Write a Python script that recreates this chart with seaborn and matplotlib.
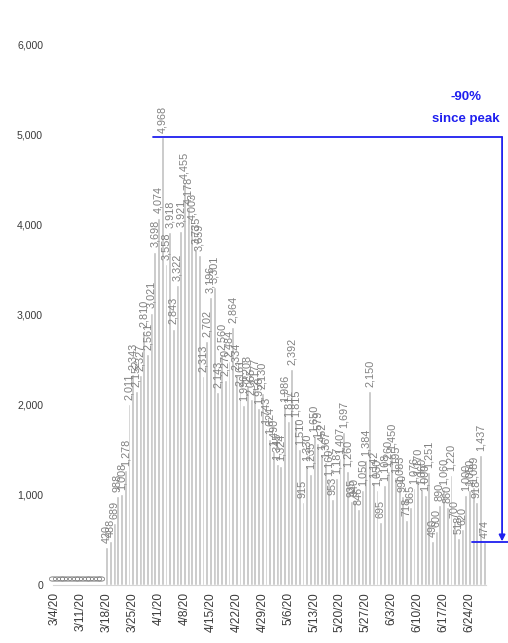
import numpy as np
import pandas as pd
import matplotlib
matplotlib.use("Agg")
import matplotlib.pyplot as plt
import seaborn as sns

# ---- data -------------------------------------------------------------
start_date = "2020-03-04"
zero_days = [0] * 14  # 3/4 - 3/17
week_values = [
    [420, 488, 689, 988, 1008, 1278, 2011],        # 3/18 - 3/24
    [2343, 2152, 2327, 2810, 2561, 3021, 3698],    # 3/25 - 3/31
    [4074, 4968, 3558, 3918, 2843, 3322, 3921],    # 4/1 - 4/7
    [4455, 4178, 4003, 3735, 3659, 2313, 2702],    # 4/8 - 4/14
    [3196, 3301, 2143, 2560, 2270, 2484, 2864],    # 4/15 - 4/21
    [2334, 2161, 1996, 2208, 2065, 2177, 1958],    # 4/22 - 4/28
    [2130, 1743, 1624, 1490, 1345, 1324, 1986],    # 4/29 - 5/5
    [1817, 2392, 1815, 1510, 915, 1330, 1235],     # 5/6 - 5/12
    [1650, 1579, 1452, 1367, 1160, 953, 1187],     # 5/13 - 5/19
    [1407, 1697, 1260, 935, 940, 846, 1050],       # 5/20 - 5/26
    [1384, 2150, 1142, 1050, 695, 1108, 1260],     # 5/27 - 6/2
    [1450, 1195, 1083, 990, 718, 865, 1076],       # 6/3 - 6/9
    [1170, 1060, 1000, 1251, 490, 600, 890],       # 6/10 - 6/16
    [1060, 860, 1220, 700, 518, 620, 1000],        # 6/17 - 6/23
    [1050, 1089, 918, 1437, 474],                  # 6/24 - 6/28
]
values = zero_days + [v for w in week_values for v in w]
dates = pd.date_range(start_date, periods=len(values), freq="D")
tick_labels = [f"{d.month}/{d.day}/{d.year % 100}" for d in dates[::7]]
yticks = [0, 1000, 2000, 3000, 4000, 5000, 6000]
note_lines = ["-90%", "since peak"]

df = pd.DataFrame({"idx": np.arange(len(values)), "value": values})

# ---- style ------------------------------------------------------------
sns.set_style("white")
plt.rcParams["font.family"] = ["Liberation Sans", "DejaVu Sans"]

BAR = "#c0c0c0"
LABEL = "#808080"
BLUE = "#1f1fef"

fig = plt.figure(figsize=(5.08, 6.43), dpi=100)
ax = fig.add_axes([50 / 508, 58 / 643, 458 / 508, 541 / 643])

sns.barplot(data=df, x="idx", y="value", color=BAR, saturation=1,
            width=0.78, ax=ax, errorbar=None)

ax.bar_label(ax.containers[0], labels=[f"{v:,}" for v in values],
             rotation=90, padding=3, fontsize=7.8, color=LABEL)

ax.set_xlim(-1.35, 122.4)
ax.set_ylim(0, 6000)
ax.set_xlabel("")
ax.set_ylabel("")

ax.set_yticks(yticks)
ax.set_yticklabels([f"{v:,}" for v in yticks], fontsize=7.6, color="#3a3a3a")
ax.tick_params(axis="y", length=0, pad=5)

ax.set_xticks(np.arange(0, len(values), 7))
ax.set_xticklabels(tick_labels, rotation=90, fontsize=8.6, color="#3a3a3a")
ax.tick_params(axis="x", length=3, width=0.6, color="#bdbdbd", pad=2)

for s in ["top", "right", "left"]:
    ax.spines[s].set_visible(False)
ax.spines["bottom"].set_color("#d6d6d6")
ax.spines["bottom"].set_linewidth(0.8)
ax.spines["bottom"].set_bounds(-0.5, len(values) - 0.5)

# ---- peak annotation ---------------------------------------------------
peak_i = int(np.argmax(values))
peak_v = values[peak_i]
last_i = len(values) - 1
last_v = values[last_i]
xr = 120.8
ax.plot([peak_i - 2.5, xr], [peak_v, peak_v], color=BLUE, lw=1.3,
        clip_on=False, zorder=5)
ax.annotate("", xy=(xr, last_v + 10), xytext=(xr, peak_v),
            arrowprops=dict(arrowstyle="-|>", color=BLUE, lw=1.3,
                            mutation_scale=9, shrinkA=0, shrinkB=0),
            zorder=5, annotation_clip=False)
ax.plot([last_i - 3.3, 123.5], [last_v, last_v], color=BLUE, lw=1.3,
        clip_on=False, zorder=5)

ax.text(111.0, 5412, note_lines[0], ha="center", va="center",
        fontsize=9.5, fontweight="bold", color=BLUE)
ax.text(111.0, 5170, note_lines[1], ha="center", va="center",
        fontsize=9.5, fontweight="bold", color=BLUE)

fig.savefig("out.png", dpi=100)
